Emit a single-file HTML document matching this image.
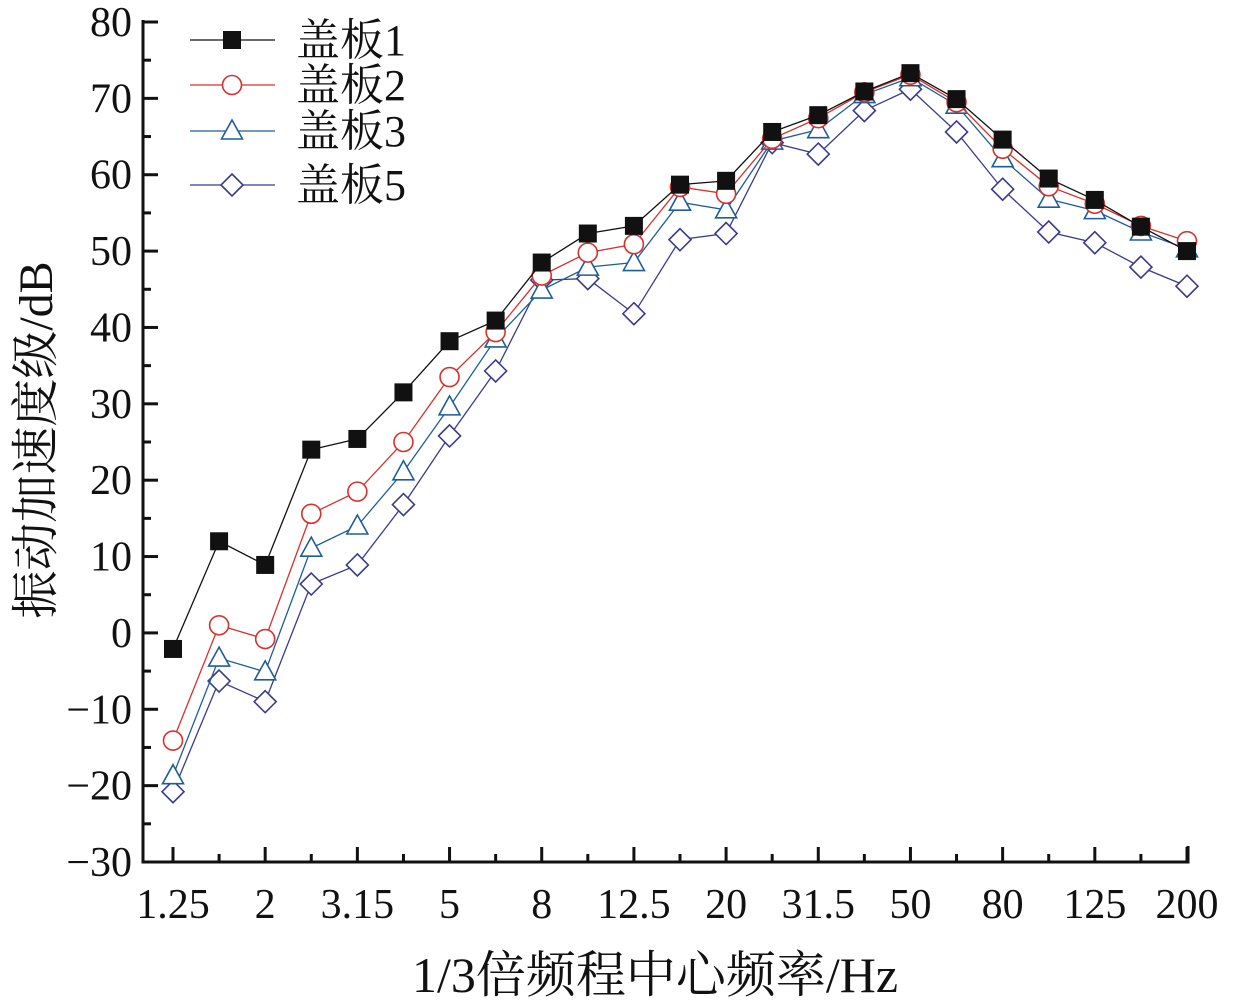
<!DOCTYPE html>
<html><head><meta charset="utf-8"><style>
html,body{margin:0;padding:0;background:#fff;}
svg{display:block;}
text{font-family:"Liberation Serif","Noto Serif CJK SC",serif;fill:#111;}
</style></head><body>
<svg id="chart" width="1234" height="1008" xmlns="http://www.w3.org/2000/svg"></svg>
<script>
const categories=["1.25","1.6","2","2.5","3.15","4","5","6.3","8","10","12.5","16","20","25","31.5","40","50","63","80","100","125","160","200"];
const xLabels=["1.25","2","3.15","5","8","12.5","20","31.5","50","80","125","200"];
const yTicks=[-30,-20,-10,0,10,20,30,40,50,60,70,80];
const s1=[-2.1,12.0,8.9,24,25.4,31.5,38.2,40.9,48.5,52.3,53.3,58.7,59.2,65.6,67.8,70.9,73.3,69.9,64.6,59.5,56.7,53.2,50];
const s2=[-14.1,1,-0.8,15.6,18.5,25,33.5,39.4,46.8,49.8,50.9,58.4,57.5,64.7,67.4,70.8,73.1,69.5,63.4,58.5,56.2,53.3,51.3];
const s3=[-18.7,-3.3,-5.1,11.1,14,21.1,29.6,38.5,44.9,47.9,48.5,56.4,55.4,64.4,65.9,70.5,72.7,69.1,62.1,56.8,55.3,52.5,50.3];
const s5=[-20.8,-6.3,-9,6.4,8.9,16.8,25.8,34.3,46.2,46.4,41.8,51.5,52.3,64.2,62.7,68.4,71.2,65.6,58.1,52.5,51.1,47.9,45.4];
const seriesNames=["盖板1","盖板2","盖板3","盖板5"];

const NS="http://www.w3.org/2000/svg";
const svg=document.getElementById('chart');
const L=143,R=1188,T=22,B=862,yMin=-30,yMax=80;
const x0=173,x1=1187;
function xs(i){return x0+(x1-x0)*i/(categories.length-1);}
function ys(v){return B-(v-yMin)/(yMax-yMin)*(B-T);}
function mk(tag,at,parent){const e=document.createElementNS(NS,tag);for(const k in at)e.setAttribute(k,at[k]);(parent||svg).appendChild(e);return e;}

let ax=mk('path',{d:`M${L},${T-2} L${L},${B} L${R},${B} L${R},${B-16}`,fill:'none',stroke:'#111','stroke-width':3});


for(let v=yMin;v<=yMax;v+=5){
  const major=v%10===0;
  const t=mk('line',{x1:L,x2:L+(major?15:8),y1:ys(v),y2:ys(v),stroke:'#111','stroke-width':3});
  
  
}
yTicks.forEach(v=>{
  const t=mk('text',{x:L-11,y:ys(v)+14,'text-anchor':'end','font-size':42});
  t.textContent=v<0?'\u2212'+(-v):String(v);
  
  
});
categories.forEach((c,i)=>{
  const major=xLabels.indexOf(c)>=0;
  const t=mk('line',{x1:xs(i),x2:xs(i),y1:B,y2:B-(major?15:8),stroke:'#111','stroke-width':3});
  
  
  if(major){
    const lb=mk('text',{x:xs(i),y:918,'text-anchor':'middle','font-size':42});
    lb.textContent=c;
    
    
  }
});
let xt=mk('text',{x:655,y:992,'text-anchor':'middle','font-size':50});
xt.textContent='1/3倍频程中心频率/Hz';


let yt=mk('text',{x:0,y:0,'text-anchor':'middle','font-size':48,transform:'translate(52,440) rotate(-90)'});
yt.textContent='振动加速度级/dB';



const cols=['#111','#d8302c','#1e5e98','#3b3b8c'];
const data=[s1,s2,s3,s5];
function marker(k,x,y,g){
  const c=cols[k];
  if(k===0) return mk('rect',{x:x-9,y:y-9,width:18,height:18,fill:'#111'},g);
  if(k===1) return mk('circle',{cx:x,cy:y,r:9.5,fill:'#fff',stroke:c,'stroke-width':1.6},g);
  if(k===2) return mk('polygon',{points:`${x},${y-11} ${x+10.5},${y+8} ${x-10.5},${y+8}`,fill:'#fff',stroke:c,'stroke-width':1.6},g);
  return mk('polygon',{points:`${x},${y-11} ${x+11},${y} ${x},${y+11} ${x-11},${y}`,fill:'#fff',stroke:c,'stroke-width':1.6},g);
}
for(let k=3;k>=0;k--){
  const g=mk('g',{});
  
  
  const d=data[k].map((v,i)=>(i?'L':'M')+xs(i)+','+ys(v)).join(' ');
  const p=mk('path',{d:d,fill:'none',stroke:cols[k],'stroke-width':1.3},g);
  
  
  data[k].forEach((v,i)=>{
    const m=marker(k,xs(i),ys(v),g);
    
    
  });
}
const ly=[40,85,131,185];
seriesNames.forEach((n,k)=>{
  const g=mk('g',{});
  
  
  mk('line',{x1:190,x2:275,y1:ly[k],y2:ly[k],stroke:cols[k],'stroke-width':1.3},g);
  marker(k,232,ly[k],g);
  const t=mk('text',{x:296,y:ly[k]+15,'font-size':44},g);
  t.textContent=n;
});
</script>
</body></html>
